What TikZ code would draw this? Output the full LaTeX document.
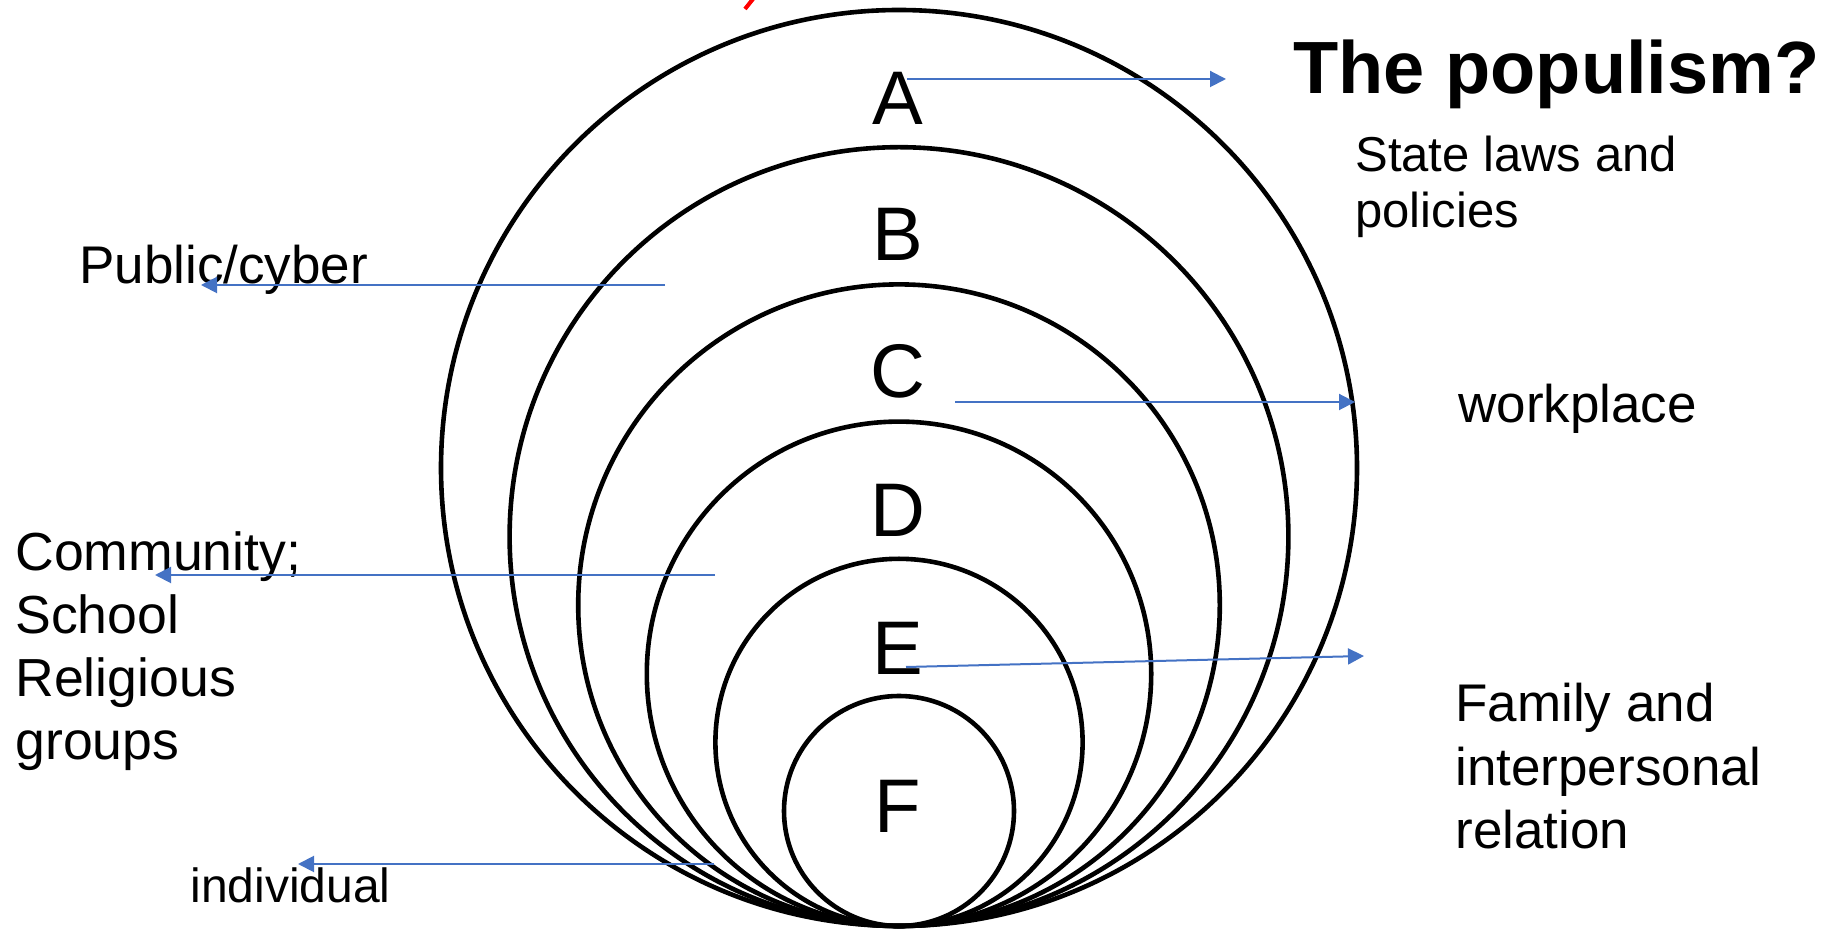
\documentclass[tikz,border=0pt]{standalone}
\usepackage{fontspec}
\setmainfont{Liberation Sans}
\usepackage{xcolor}
\usepackage{tikz}
\usetikzlibrary{positioning,arrows.meta}

\definecolor{arrblue}{HTML}{4472C4}

\begin{document}
\begin{tikzpicture}[
    x=0.5pt, y=0.5pt,
    ring/.style    = {circle, draw=black, line width=2.3pt, inner sep=0pt,
                      minimum size=#1},
    letter/.style  = {font=\fontsize{38}{40}\selectfont, anchor=base, inner sep=0pt},
    side/.style    = {font=\fontsize{26.5}{31.75}\selectfont, align=left,
                      anchor=base west, inner sep=0pt},
    head/.style    = {font=\fontsize{37}{40}\selectfont\bfseries,
                      anchor=base west, inner sep=0pt},
    arr/.style     = {-{Triangle[length=8pt,width=8pt]}, draw=arrblue,
                      line width=1pt},
]
\useasboundingbox (0,0) rectangle (1832,-929);

% nested rings, all touching at the bottom point
\foreach \r/\n in {458/A, 389.4/B, 320.8/C, 252.2/D, 183.6/E, 115/F} {
    \node[ring=\r pt] (ring\n) at (899, -926+\r) {};
}

% ring letters
\foreach \n/\y in {A/125, B/261, C/398, D/537, E/675, F/833} {
    \node[letter] (l\n) at (898, -\y) {\n};
}

% red remnant at the top
\draw[red, line width=2pt] (745,-9) -- (753,1);

% labels round the rings (multi-line ones sit on their last baseline)
\node[head] (title) at (1293, -94) {The populism?};
\node[side, font=\fontsize{24.5}{28}\selectfont] (state) at (1355, -228)
     {State laws and\\policies};
\node[side] (public) at (79, -284) {Public/cyber};
\node[side] (work) at (1458, -423) {workplace};
\node[side, font=\fontsize{26.8}{31.5}\selectfont] (comm) at (15, -760)
     {Community;\\School\\Religious\\groups};
\node[side] (family) at (1455, -849) {Family and\\interpersonal\\relation};
\node[side, font=\fontsize{24}{28}\selectfont] (indiv) at (190, -903) {individual};

% arrow ends
\coordinate (a1s) at (907, -79);   \coordinate (a1e) at (1226, -79);
\coordinate (a2s) at (665, -285);  \coordinate (a2e) at (201, -285);
\coordinate (a3s) at (955, -402);  \coordinate (a3e) at (1355, -402);
\coordinate (a4s) at (715, -575);  \coordinate (a4e) at (155, -575);
\coordinate (a5s) at (906, -667);  \coordinate (a5e) at (1364, -656);
\coordinate (a6s) at (714, -864);  \coordinate (a6e) at (298, -864);

\foreach \i in {1,...,6} {
    \draw[arr] (a\i s) -- (a\i e);
}

\end{tikzpicture}
\end{document}
